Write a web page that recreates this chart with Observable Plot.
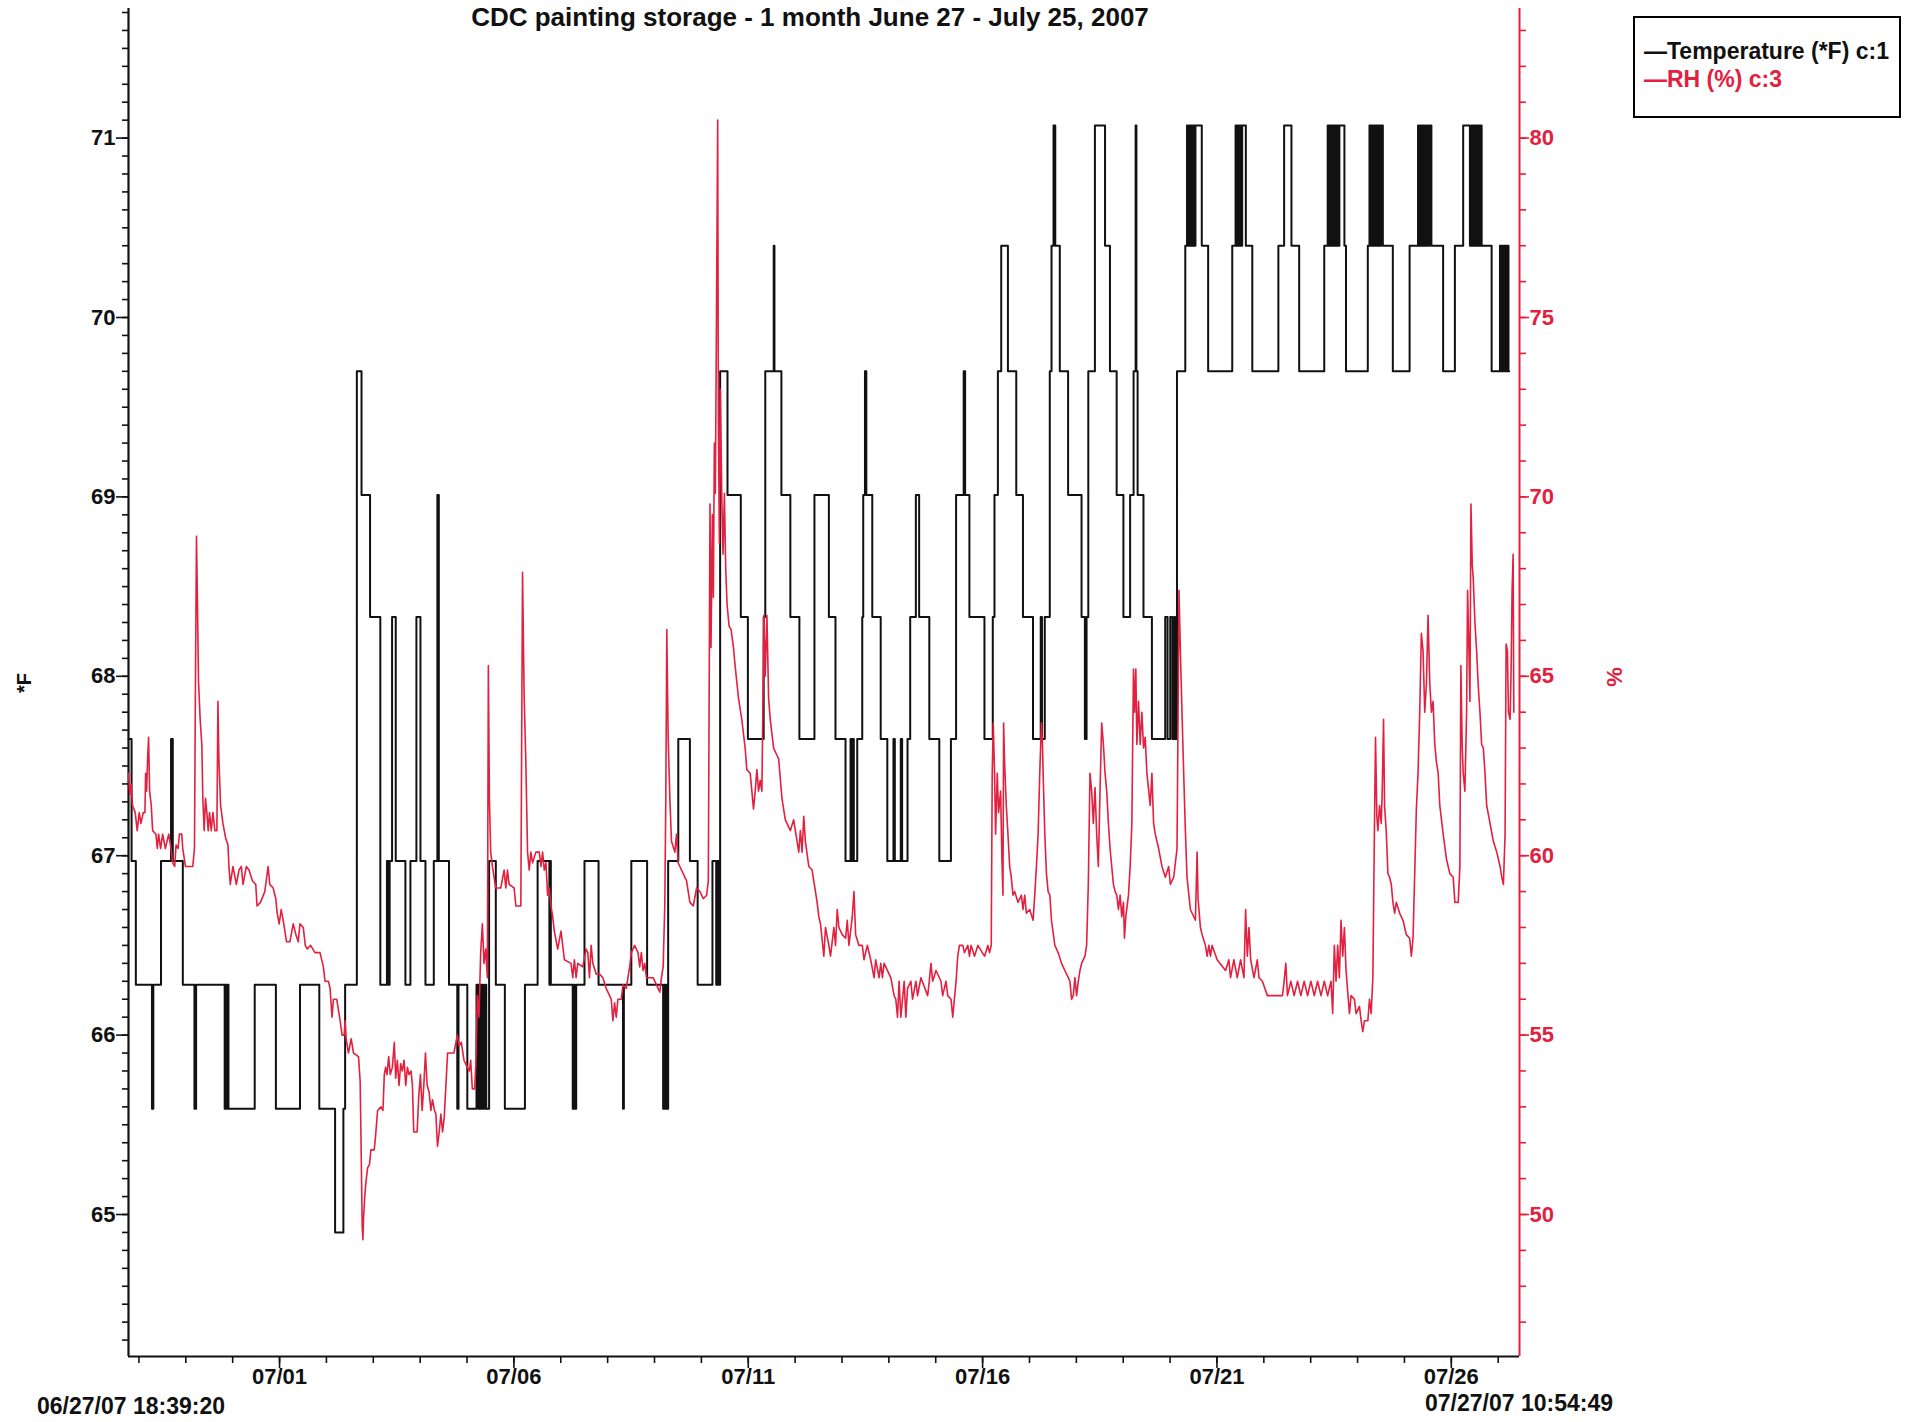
<!DOCTYPE html>
<html>
<head>
<meta charset="utf-8">
<script src="https://cdn.jsdelivr.net/npm/d3@7"></script>
<script src="https://cdn.jsdelivr.net/npm/@observablehq/plot@0.6"></script>
<style>
html,body{margin:0;padding:0;background:#fff;}
#wrap{position:relative;width:1910px;height:1422px;overflow:hidden;background:#fff;font-family:"Liberation Sans",Arial,Helvetica,sans-serif;}
#wrap svg{position:absolute;left:0;top:0;}
.t{position:absolute;white-space:nowrap;font-weight:bold;line-height:1.2;}
#legend{position:absolute;left:1633px;top:16px;width:264px;height:98px;border:2px solid #000;box-sizing:content-box;}
</style>
</head>
<body>
<div id="wrap"></div>
<script>
// ---------- DATA ----------
const titleText = "CDC painting storage - 1 month  June 27 - July 25, 2007";
const startLabel = "06/27/07 18:39:20";
const endLabel = "07/27/07 10:54:49";
const legendTemp = "\u2014Temperature (*F) c:1";
const legendRH = "\u2014RH (%) c:3";
// time = days since 2007-06-27 00:00
const startDay = 0.7773;   // 06/27 18:39:20
const endDay = 30.4547;    // 07/27 10:54:49
const majorTickDates = ["2007-07-01","2007-07-06","2007-07-11","2007-07-16","2007-07-21","2007-07-26"];
const tempTickValues = [65, 66, 67, 68, 69, 70, 71];
const rhTickValues = [50, 55, 60, 65, 70, 75, 80];
// temperature sensor levels (*F)
const tempLevels = [64.90, 65.59, 66.28, 66.97, 67.65, 68.33, 69.01, 69.70, 70.40, 71.07];
// [day, level index] — step changes of temperature
const tempSteps = [[0.7773,4],[0.843,3],[0.934,2],[1.278,1],[1.307,2],[1.471,3],[1.685,4],[1.722,3],[1.936,2],[2.184,1],[2.220,2],[2.829,1],[2.850,2],[2.870,1],[2.890,2],[2.910,1],[3.470,2],[3.922,1],[4.436,2],[4.848,1],[5.185,0],[5.362,1],[5.399,2],[5.649,7],[5.749,6],[5.931,5],[6.150,2],[6.291,3],[6.323,2],[6.349,3],[6.401,5],[6.479,3],[6.685,2],[6.792,3],[6.920,5],[7.006,3],[7.113,2],[7.291,3],[7.367,6],[7.398,3],[7.615,2],[7.792,1],[7.818,2],[8.006,1],[8.202,2],[8.241,1],[8.267,2],[8.293,1],[8.319,2],[8.345,1],[8.384,2],[8.410,1],[8.471,3],[8.614,2],[8.807,1],[9.235,2],[9.506,3],[9.757,2],[9.773,3],[9.788,2],[10.255,1],[10.274,2],[10.295,1],[10.329,2],[10.506,3],[10.806,2],[11.328,1],[11.346,2],[11.505,3],[11.842,2],[12.184,1],[12.207,2],[12.233,1],[12.259,2],[12.272,1],[12.291,3],[12.507,4],[12.755,3],[12.920,2],[13.236,3],[13.316,2],[13.342,3],[13.368,2],[13.400,7],[13.557,6],[13.841,5],[13.992,4],[14.329,5],[14.363,7],[14.543,8],[14.559,7],[14.707,6],[14.898,5],[15.091,4],[15.412,6],[15.720,5],[15.861,4],[16.075,3],[16.182,4],[16.200,3],[16.226,4],[16.252,3],[16.325,4],[16.432,5],[16.453,6],[16.490,7],[16.501,6],[16.511,7],[16.519,6],[16.646,5],[16.826,4],[16.967,3],[17.098,4],[17.127,3],[17.254,4],[17.283,3],[17.398,4],[17.455,5],[17.576,6],[17.646,5],[17.863,4],[18.076,3],[18.324,4],[18.434,6],[18.596,7],[18.627,6],[18.718,5],[19.039,4],[19.217,5],[19.253,6],[19.326,7],[19.397,8],[19.540,7],[19.718,6],[19.861,5],[20.075,4],[20.240,5],[20.266,4],[20.326,5],[20.433,7],[20.470,8],[20.513,9],[20.550,8],[20.647,7],[20.824,6],[21.111,5],[21.182,4],[21.218,5],[21.255,7],[21.396,9],[21.612,8],[21.717,7],[21.860,6],[22.004,5],[22.147,6],[22.221,7],[22.265,9],[22.281,7],[22.307,6],[22.432,5],[22.612,4],[22.896,5],[22.946,4],[23.003,5],[23.050,4],[23.089,5],[23.110,4],[23.147,7],[23.324,8],[23.361,9],[23.384,8],[23.405,9],[23.428,8],[23.449,9],[23.473,8],[23.494,9],[23.520,8],[23.541,9],[23.676,8],[23.812,7],[24.326,8],[24.397,9],[24.420,8],[24.444,9],[24.468,8],[24.491,9],[24.515,8],[24.538,9],[24.616,8],[24.754,7],[25.310,8],[25.433,9],[25.589,8],[25.754,7],[26.289,8],[26.362,9],[26.385,8],[26.408,9],[26.430,8],[26.450,9],[26.470,8],[26.490,9],[26.510,8],[26.530,9],[26.550,8],[26.570,9],[26.590,8],[26.612,9],[26.719,8],[26.753,7],[27.218,8],[27.254,9],[27.280,8],[27.300,9],[27.330,8],[27.350,9],[27.380,8],[27.400,9],[27.430,8],[27.450,9],[27.480,8],[27.500,9],[27.539,8],[27.752,7],[28.110,8],[28.290,9],[28.310,8],[28.340,9],[28.360,8],[28.390,9],[28.410,8],[28.440,9],[28.460,8],[28.490,9],[28.510,8],[28.540,9],[28.575,8],[28.825,7],[29.076,8],[29.253,9],[29.397,8],[29.433,9],[29.450,8],[29.470,9],[29.500,8],[29.520,9],[29.550,8],[29.570,9],[29.600,8],[29.620,9],[29.647,8],[29.860,7],[30.038,8],[30.060,7],[30.080,8],[30.100,7],[30.120,8],[30.140,7],[30.160,8],[30.180,7],[30.200,8],[30.220,7],[30.235,7]];
// [day, RH %]
const rhReadings = [[0.7773,62.3],[0.806,61.7],[0.835,62.0],[0.863,61.4],[0.920,61.2],[0.963,60.7],[1.006,61.2],[1.042,60.9],[1.092,61.2],[1.128,61.2],[1.142,62.3],[1.163,61.8],[1.185,62.7],[1.206,63.3],[1.228,61.8],[1.263,61.4],[1.292,60.7],[1.363,60.6],[1.392,60.2],[1.420,60.6],[1.463,60.2],[1.506,60.6],[1.563,60.2],[1.635,60.6],[1.685,60.2],[1.720,59.8],[1.763,59.7],[1.792,60.3],[1.835,60.2],[1.863,60.6],[1.913,60.6],[1.935,60.2],[1.992,59.7],[2.078,59.7],[2.149,59.7],[2.185,60.2],[2.206,64.9],[2.228,68.9],[2.249,67.0],[2.270,64.9],[2.306,63.8],[2.342,63.1],[2.363,61.6],[2.392,60.7],[2.420,61.6],[2.449,61.2],[2.478,60.7],[2.506,61.2],[2.542,60.7],[2.578,61.2],[2.620,60.7],[2.663,60.7],[2.685,64.3],[2.706,62.7],[2.742,61.4],[2.792,60.9],[2.849,60.5],[2.899,60.3],[2.920,59.7],[2.949,59.2],[3.006,59.7],[3.078,59.2],[3.135,59.6],[3.185,59.7],[3.220,59.2],[3.292,59.7],[3.349,59.6],[3.420,59.3],[3.492,59.2],[3.520,58.6],[3.592,58.7],[3.685,59.0],[3.756,59.7],[3.792,59.2],[3.863,59.1],[3.920,58.8],[3.949,58.4],[3.992,58.1],[4.035,58.5],[4.078,58.2],[4.149,57.6],[4.220,57.6],[4.292,58.1],[4.349,57.8],[4.399,57.6],[4.435,58.1],[4.506,58.0],[4.549,57.5],[4.592,57.4],[4.663,57.5],[4.756,57.3],[4.863,57.3],[4.935,56.9],[4.970,56.5],[5.042,56.5],[5.078,56.3],[5.120,55.5],[5.149,56.0],[5.220,56.0],[5.292,55.4],[5.335,55.0],[5.378,55.0],[5.399,55.4],[5.420,54.9],[5.470,54.5],[5.528,54.9],[5.578,54.5],[5.685,54.4],[5.720,53.7],[5.742,51.7],[5.763,49.7],[5.778,49.3],[5.792,49.9],[5.813,50.4],[5.835,50.8],[5.878,51.3],[5.920,51.4],[5.949,51.8],[6.020,51.8],[6.049,52.2],[6.092,52.9],[6.163,53.0],[6.206,52.9],[6.235,53.9],[6.263,54.1],[6.292,53.9],[6.328,54.4],[6.363,53.9],[6.406,54.1],[6.449,54.8],[6.478,53.8],[6.513,54.3],[6.549,53.6],[6.585,54.2],[6.620,54.0],[6.656,54.3],[6.692,53.6],[6.728,54.1],[6.763,53.9],[6.806,54.0],[6.835,53.6],[6.863,52.3],[6.935,52.3],[6.970,53.3],[7.006,53.9],[7.042,52.9],[7.078,53.6],[7.113,54.5],[7.149,53.6],[7.192,53.4],[7.228,52.9],[7.263,53.2],[7.306,52.9],[7.335,52.8],[7.370,51.9],[7.406,52.3],[7.442,52.8],[7.478,52.3],[7.513,52.7],[7.549,53.6],[7.585,54.5],[7.720,54.5],[7.792,55.0],[7.828,54.7],[7.878,54.8],[7.935,54.3],[8.006,54.1],[8.049,54.0],[8.078,54.3],[8.113,53.5],[8.163,53.5],[8.192,54.3],[8.220,56.1],[8.255,55.5],[8.291,57.3],[8.327,58.1],[8.362,57.0],[8.398,57.4],[8.434,56.6],[8.455,65.3],[8.477,61.6],[8.505,60.1],[8.541,59.7],[8.612,59.1],[8.719,59.1],[8.791,59.6],[8.827,59.1],[8.862,59.6],[8.898,59.2],[9.005,59.1],[9.041,58.6],[9.148,58.6],[9.184,67.9],[9.219,64.4],[9.255,62.6],[9.291,60.1],[9.327,59.6],[9.362,60.1],[9.398,59.8],[9.469,60.1],[9.541,60.1],[9.577,59.7],[9.612,60.1],[9.648,59.6],[9.684,59.8],[9.719,58.9],[9.755,59.1],[9.791,58.6],[9.827,58.3],[9.862,57.9],[9.934,57.4],[10.005,57.9],[10.041,57.5],[10.077,57.1],[10.219,57.0],[10.255,56.6],[10.291,57.1],[10.327,56.6],[10.362,57.0],[10.469,56.9],[10.541,57.4],[10.577,57.3],[10.612,56.6],[10.648,57.5],[10.684,57.0],[10.755,56.7],[10.827,56.7],[10.898,56.6],[10.969,56.3],[11.041,56.1],[11.077,56.0],[11.112,55.4],[11.148,55.9],[11.184,55.5],[11.219,56.0],[11.291,56.0],[11.327,56.4],[11.398,56.3],[11.469,56.9],[11.505,57.3],[11.577,57.5],[11.648,57.3],[11.684,56.9],[11.719,57.3],[11.755,56.8],[11.791,57.0],[11.827,56.6],[11.969,56.6],[12.077,56.3],[12.112,56.2],[12.148,56.6],[12.184,56.9],[12.219,58.6],[12.241,61.6],[12.262,66.3],[12.291,63.3],[12.327,61.6],[12.362,60.4],[12.434,60.1],[12.469,60.6],[12.505,59.8],[12.541,59.7],[12.684,59.3],[12.719,59.0],[12.755,58.7],[12.827,58.6],[12.898,59.1],[12.969,59.0],[13.041,58.8],[13.112,58.9],[13.148,59.3],[13.184,69.8],[13.205,65.8],[13.234,69.5],[13.255,67.2],[13.277,71.5],[13.298,70.1],[13.319,74.4],[13.348,80.5],[13.362,72.2],[13.384,68.7],[13.405,73.0],[13.434,70.1],[13.462,68.4],[13.491,70.1],[13.519,68.0],[13.548,67.0],[13.591,66.4],[13.634,66.3],[13.684,65.8],[13.719,65.3],[13.791,64.4],[13.862,63.8],[13.934,63.0],[13.969,62.4],[14.041,62.3],[14.077,61.8],[14.112,61.3],[14.148,61.8],[14.184,62.4],[14.219,61.8],[14.255,62.1],[14.291,61.8],[14.334,66.7],[14.362,65.0],[14.398,66.7],[14.434,64.4],[14.469,63.8],[14.541,63.0],[14.612,62.8],[14.648,62.7],[14.719,61.6],[14.791,61.0],[14.898,60.7],[14.969,61.0],[15.005,60.7],[15.041,60.4],[15.077,60.1],[15.112,60.7],[15.148,60.1],[15.184,61.1],[15.219,60.4],[15.291,59.7],[15.362,59.6],[15.434,59.0],[15.469,58.7],[15.505,58.3],[15.541,58.1],[15.612,57.2],[15.648,58.0],[15.719,57.5],[15.755,57.2],[15.827,58.0],[15.862,57.5],[15.898,58.5],[15.934,58.0],[16.005,57.8],[16.077,57.7],[16.112,58.2],[16.148,57.5],[16.219,58.3],[16.255,59.0],[16.291,57.8],[16.362,57.5],[16.434,57.5],[16.469,57.1],[16.541,57.5],[16.612,57.1],[16.684,56.6],[16.719,57.1],[16.791,56.6],[16.827,57.0],[16.862,56.6],[16.898,57.0],[17.041,56.6],[17.112,56.1],[17.148,56.0],[17.184,55.5],[17.219,56.5],[17.255,55.5],[17.291,56.0],[17.327,56.5],[17.362,55.5],[17.398,56.3],[17.469,56.5],[17.505,56.0],[17.577,56.5],[17.612,56.1],[17.684,56.6],[17.827,56.1],[17.862,56.5],[17.898,57.0],[17.934,56.5],[18.005,56.8],[18.112,56.5],[18.148,56.1],[18.219,56.5],[18.255,56.1],[18.327,56.0],[18.362,55.5],[18.398,56.0],[18.434,56.5],[18.469,57.2],[18.505,57.5],[18.577,57.5],[18.612,57.3],[18.684,57.5],[18.719,57.2],[18.755,57.5],[18.827,57.2],[18.898,57.5],[19.041,57.2],[19.112,57.5],[19.148,57.3],[19.184,57.5],[19.205,62.3],[19.227,63.7],[19.255,62.3],[19.277,60.6],[19.312,62.3],[19.341,61.2],[19.384,61.8],[19.412,59.9],[19.434,58.9],[19.448,63.7],[19.469,62.6],[19.505,61.4],[19.541,60.6],[19.577,59.7],[19.612,59.4],[19.648,58.9],[19.684,59.0],[19.755,58.7],[19.827,58.9],[19.862,58.5],[19.898,58.9],[19.934,58.4],[20.005,58.5],[20.077,58.2],[20.112,58.9],[20.148,59.7],[20.184,60.6],[20.219,62.3],[20.255,63.7],[20.277,63.1],[20.291,62.3],[20.327,60.6],[20.362,59.5],[20.398,59.0],[20.434,58.9],[20.469,58.2],[20.541,57.5],[20.612,57.3],[20.684,57.0],[20.755,56.8],[20.827,56.6],[20.862,56.5],[20.898,56.0],[20.934,56.1],[20.969,56.6],[21.005,56.1],[21.041,56.5],[21.077,56.8],[21.112,57.0],[21.184,57.2],[21.219,57.5],[21.255,59.2],[21.291,62.3],[21.327,61.8],[21.362,60.9],[21.398,61.9],[21.434,60.6],[21.469,59.7],[21.505,61.8],[21.541,63.7],[21.577,63.1],[21.612,62.3],[21.648,61.8],[21.684,60.9],[21.719,60.2],[21.755,59.7],[21.791,59.2],[21.827,59.0],[21.862,58.9],[21.898,58.5],[21.934,58.9],[21.969,58.3],[22.005,58.7],[22.026,57.7],[22.055,58.3],[22.112,58.9],[22.148,59.7],[22.184,60.9],[22.219,65.2],[22.241,64.0],[22.269,65.2],[22.291,63.1],[22.327,64.3],[22.362,63.1],[22.398,64.0],[22.434,63.0],[22.469,63.3],[22.505,62.3],[22.576,61.4],[22.612,62.3],[22.648,60.9],[22.684,60.6],[22.755,60.2],[22.827,59.7],[22.898,59.4],[22.969,59.7],[23.005,59.2],[23.077,59.4],[23.148,60.2],[23.190,67.4],[23.219,65.7],[23.254,64.0],[23.290,62.3],[23.326,60.7],[23.361,59.4],[23.433,58.5],[23.540,58.2],[23.576,60.1],[23.597,58.8],[23.647,58.0],[23.683,57.8],[23.754,57.5],[23.790,57.2],[23.826,57.5],[23.861,57.2],[23.897,57.5],[24.004,57.1],[24.183,56.8],[24.254,57.1],[24.290,56.6],[24.361,57.1],[24.433,56.6],[24.504,57.1],[24.576,56.6],[24.611,58.5],[24.647,57.2],[24.683,58.0],[24.719,57.1],[24.790,56.6],[24.861,57.1],[24.897,56.6],[24.969,56.5],[25.076,56.1],[25.397,56.1],[25.433,56.5],[25.469,57.0],[25.504,56.1],[25.576,56.5],[25.647,56.1],[25.719,56.5],[25.790,56.1],[25.861,56.5],[25.933,56.1],[26.004,56.5],[26.076,56.1],[26.147,56.5],[26.219,56.1],[26.290,56.5],[26.361,56.1],[26.433,56.5],[26.469,55.6],[26.504,57.5],[26.540,56.5],[26.576,57.5],[26.611,56.6],[26.647,58.2],[26.683,57.2],[26.719,58.0],[26.754,56.8],[26.826,55.6],[26.861,56.1],[26.933,56.0],[26.969,55.6],[27.040,55.8],[27.076,55.4],[27.111,55.1],[27.147,55.4],[27.219,55.4],[27.254,56.0],[27.290,55.6],[27.326,56.6],[27.361,60.9],[27.383,63.3],[27.411,61.1],[27.433,60.7],[27.469,61.4],[27.504,60.9],[27.526,61.8],[27.554,63.8],[27.576,61.4],[27.611,60.7],[27.647,59.5],[27.683,59.4],[27.719,59.2],[27.754,58.7],[27.790,58.4],[27.826,58.7],[27.897,58.4],[27.969,58.2],[28.040,57.8],[28.111,57.7],[28.147,57.2],[28.183,57.7],[28.219,59.5],[28.254,61.3],[28.290,62.3],[28.326,64.0],[28.361,66.2],[28.397,65.7],[28.433,64.0],[28.469,64.8],[28.504,66.7],[28.540,64.8],[28.576,64.0],[28.611,64.3],[28.647,63.1],[28.683,62.6],[28.719,62.3],[28.754,61.4],[28.826,60.6],[28.897,59.9],[28.969,59.5],[29.040,59.4],[29.076,58.7],[29.147,58.7],[29.183,59.7],[29.204,65.3],[29.233,63.0],[29.254,62.3],[29.290,61.8],[29.326,64.0],[29.347,67.4],[29.376,65.7],[29.397,64.3],[29.419,69.8],[29.447,68.1],[29.469,67.7],[29.504,66.5],[29.540,65.7],[29.576,64.7],[29.611,64.0],[29.647,63.1],[29.683,63.0],[29.719,62.3],[29.754,61.4],[29.826,60.9],[29.897,60.4],[29.969,60.1],[30.040,59.7],[30.076,59.4],[30.111,59.2],[30.147,60.6],[30.169,65.9],[30.197,65.7],[30.219,64.0],[30.254,63.8],[30.276,65.2],[30.297,67.4],[30.319,68.4],[30.333,64.0]];

// ---------- BUILD ----------
const RED = "#e2203f";
const FONT = "Liberation Sans, Arial, Helvetica, sans-serif";
const base = Date.UTC(2007, 5, 27);
const toDate = d => new Date(base + d * 864e5);
// RH shares the frame with temperature: 80 % at 71 *F, 5 % per *F
const rhToF = v => 71 + (v - 80) / 5;

const temp = tempSteps.map(([d, k]) => ({date: toDate(d), value: tempLevels[k]}));
const rh = rhReadings.map(([d, v]) => ({date: toDate(d), value: v}));

const xMin = toDate(startDay), xMax = toDate(endDay);
const dailyTicks = d3.utcDay.range(d3.utcDay.ceil(xMin), xMax);
const majorTicks = majorTickDates.map(s => new Date(s + "T00:00:00Z"));
const tempMinor = d3.range(643, 718).map(v => v / 10);
const rhMinor = d3.range(47, 84).map(rhToF);
const rhMajorPos = rhTickValues.map(rhToF);
const fmtDay = d3.utcFormat("%m/%d");

const yLo = 64.2085, yHi = 71.7224;

const chart = Plot.plot({
  width: 1910,
  height: 1422,
  marginLeft: 128,
  marginRight: 391,
  marginTop: 8,
  marginBottom: 66,
  style: {background: "white", fontFamily: FONT, overflow: "visible"},
  x: {type: "utc", domain: [xMin, xMax]},
  y: {domain: [yLo, yHi]},
  marks: [
    // frame lines
    Plot.ruleY([yLo], {stroke: "#111", strokeWidth: 2.2}),
    Plot.ruleX([xMin], {stroke: "#111", strokeWidth: 2.2}),
    // left (*F) axis
    Plot.axisY(tempMinor, {anchor: "left", tickSize: 6, tickFormat: () => "", label: null, color: "#111", strokeWidth: 1.6}),
    Plot.axisY(tempTickValues, {anchor: "left", tickSize: 12, tickPadding: 1, label: null, color: "#111", strokeWidth: 1.6,
      fontSize: 22, fontWeight: "bold", fontFamily: FONT, tickFormat: d => String(d)}),
    // right (%) axis
    Plot.axisY(rhMinor, {anchor: "right", tickSize: 6, tickFormat: () => "", label: null, color: RED, strokeWidth: 1.6}),
    Plot.axisY(rhMajorPos, {anchor: "right", tickSize: 9, tickPadding: 1, label: null, color: RED, strokeWidth: 1.6,
      fontSize: 22, fontWeight: "bold", fontFamily: FONT,
      tickFormat: (d, i) => String(rhTickValues[i])}),
    // bottom time axis
    Plot.axisX(dailyTicks, {anchor: "bottom", tickSize: 7, tickFormat: () => "", label: null, color: "#111", strokeWidth: 1.6}),
    Plot.axisX(majorTicks, {anchor: "bottom", tickSize: 12, tickPadding: 0, label: null, color: "#111", strokeWidth: 1.6,
      fontSize: 22, fontWeight: "bold", fontFamily: FONT, tickFormat: fmtDay}),
    // series
    Plot.line(temp, {x: "date", y: "value", curve: "step-after", stroke: "#111", strokeWidth: 2}),
    Plot.line(rh, {x: "date", y: d => rhToF(d.value), stroke: RED, strokeWidth: 1.6}),
    Plot.ruleX([xMax], {stroke: RED, strokeWidth: 2})
  ]
});

const wrap = document.getElementById("wrap");
wrap.appendChild(chart);

function addText(txt, left, top, size, color, extra) {
  const el = document.createElement("div");
  el.className = "t";
  el.textContent = txt;
  el.style.left = left + "px";
  el.style.top = top + "px";
  el.style.fontSize = size + "px";
  el.style.color = color;
  if (extra) Object.assign(el.style, extra);
  wrap.appendChild(el);
  return el;
}
// title near the top edge, fully visible
addText(titleText, 810, 2, 26, "#111", {transform: "translateX(-50%)"});
// start / end labels
addText(startLabel, 37, 1393, 23, "#111");
addText(endLabel, 1425, 1390, 23, "#111");
// axis titles
addText("*F", 24, 683, 20, "#111", {transform: "translate(-50%,-50%) rotate(-90deg)"});
addText("%", 1615, 677, 22, RED, {transform: "translate(-50%,-50%) rotate(-90deg)"});
// legend
const lg = document.createElement("div");
lg.id = "legend";
wrap.appendChild(lg);
addText(legendTemp, 1644, 38, 23, "#111");
addText(legendRH, 1644, 66, 23, RED);
</script>
</body>
</html>
